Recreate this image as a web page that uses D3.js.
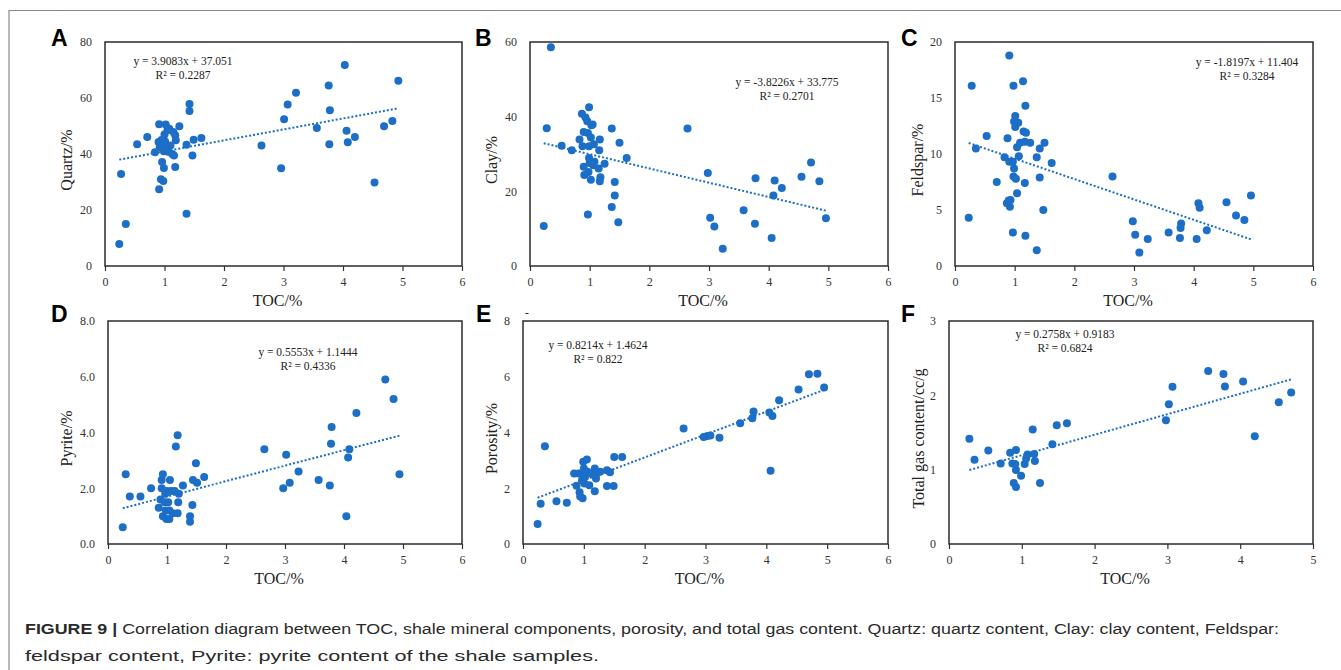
<!DOCTYPE html>
<meta charset="utf-8">
<style>
body { margin: 0; background: #fff; }
svg { display: block; }
.axis-title { font-family: "Liberation Serif", "Times New Roman", serif; font-size: 16px; fill: #222; }
.eq { font-family: "Liberation Serif", "Times New Roman", serif; font-size: 11.5px; fill: #222; }
.letter { font-family: "Liberation Sans", Arial, sans-serif; font-weight: bold; font-size: 23px; fill: #000; }
.caption { font-family: "Liberation Sans", Arial, sans-serif; font-size: 15.5px; fill: #2a2a2a; }
</style>
<body>
<script src="https://d3js.org/d3.v7.min.js"></script>
<script>

// TOC (%) vs mineral / porosity / gas content
var quartz = [[0.24,7.9],[0.35,15.0],[0.27,32.9],[0.54,43.5],[0.71,46.1],[0.84,40.6],[0.91,50.6],[0.91,27.4],
  [0.94,31.0],[0.96,37.1],[0.98,30.4],[0.99,35.0],[0.90,44.3],[0.92,42.5],[0.95,45.0],[0.97,43.2],[0.99,41.0],
  [1.00,47.0],[1.02,50.5],[1.01,44.5],[1.03,42.0],[1.05,48.5],[1.06,40.8],[1.08,49.0],[1.10,43.0],[1.13,40.0],
  [1.15,47.9],[1.18,46.7],[1.19,44.9],[1.25,49.9],[1.16,39.5],[1.18,35.4],[1.37,43.3],[1.42,57.9],[1.42,55.4],
  [1.49,45.1],[1.47,39.5],[1.62,45.7],[1.37,18.7],[2.63,43.0],[2.96,34.9],[3.01,52.4],[3.07,57.7],[3.21,61.9],
  [3.56,49.3],[3.76,64.5],[3.78,55.6],[3.77,43.5],[4.03,71.8],[4.06,48.3],[4.08,44.2],[4.20,46.1],[4.53,29.8],
  [4.69,49.9],[4.83,51.8],[4.93,66.2]];

var clay = [[0.23,10.7],[0.28,36.9],[0.35,58.6],[0.53,32.2],[0.70,31.0],[0.83,33.9],[0.87,40.8],[0.90,35.9],
  [0.88,32.1],[0.90,26.6],[0.91,24.4],[0.93,39.8],[0.96,38.8],[0.99,42.5],[0.97,35.6],[0.99,32.1],[0.99,28.9],
  [1.00,27.6],[0.98,25.2],[0.97,13.8],[1.02,23.1],[1.03,37.7],[1.05,37.9],[1.02,34.4],[1.07,32.6],[1.08,27.9],
  [1.06,27.0],[1.16,31.0],[1.17,33.9],[1.15,26.1],[1.18,23.8],[1.17,22.7],[1.25,27.4],[1.37,36.8],[1.37,15.8],
  [1.42,22.5],[1.42,18.9],[1.50,33.0],[1.48,11.7],[1.62,28.9],[2.64,36.8],[2.98,24.9],[3.02,12.9],[3.09,10.6],
  [3.23,4.6],[3.58,14.9],[3.77,11.3],[3.78,23.5],[4.05,7.5],[4.08,18.9],[4.10,22.9],[4.22,20.9],[4.55,23.9],
  [4.71,27.7],[4.85,22.7],[4.96,12.8]];

var feldspar = [[0.23,4.3],[0.28,16.1],[0.35,10.5],[0.53,11.6],[0.70,7.5],[0.83,9.7],[0.88,11.4],[0.91,18.8],
  [0.87,5.6],[0.90,5.85],[0.92,5.3],[0.91,9.3],[0.93,5.9],[0.97,9.3],[0.99,8.7],[0.97,3.0],[0.98,16.1],[0.98,8.0],
  [1.01,13.4],[0.99,12.9],[1.01,12.4],[1.02,7.8],[1.04,6.5],[1.06,12.8],[1.04,10.6],[1.07,9.8],[1.09,11.0],
  [1.14,16.5],[1.15,12.0],[1.18,14.3],[1.19,11.9],[1.17,11.1],[1.17,7.4],[1.18,2.7],[1.26,11.0],[1.37,9.7],
  [1.37,1.4],[1.42,10.5],[1.42,7.9],[1.50,11.0],[1.48,5.0],[1.62,9.2],[2.64,8.0],[2.98,4.0],[3.02,2.8],[3.09,1.2],
  [3.23,2.4],[3.58,3.0],[3.77,2.5],[3.78,3.4],[3.79,3.8],[4.05,2.4],[4.08,5.6],[4.10,5.2],[4.22,3.2],[4.55,5.7],
  [4.71,4.5],[4.85,4.1],[4.96,6.3]];

var pyrite = [[0.25,0.6],[0.30,2.5],[0.37,1.7],[0.55,1.7],[0.73,2.0],[0.86,1.3],[0.89,1.6],[0.91,2.0],[0.91,2.3],
  [0.93,2.5],[0.93,1.0],[0.96,1.5],[0.97,1.8],[0.98,1.2],[0.99,0.9],[1.00,1.9],[1.02,1.5],[1.04,0.9],[1.05,2.3],
  [1.04,1.2],[1.07,1.9],[1.10,1.1],[1.13,1.9],[1.15,3.5],[1.18,3.9],[1.18,1.1],[1.19,1.5],[1.20,1.8],[1.27,2.1],
  [1.39,1.0],[1.39,0.8],[1.43,1.4],[1.44,2.3],[1.49,2.9],[1.51,2.2],[1.63,2.4],[2.65,3.4],[2.97,2.0],[3.02,3.2],
  [3.08,2.2],[3.23,2.6],[3.57,2.3],[3.76,2.1],[3.78,3.6],[3.79,4.2],[4.04,1.0],[4.07,3.1],[4.09,3.4],[4.21,4.7],
  [4.70,5.9],[4.84,5.2],[4.94,2.5]];

var porosity = [[0.24,0.72],[0.29,1.44],[0.36,3.51],[0.55,1.53],[0.72,1.48],[0.84,2.53],[0.88,2.09],[0.91,2.53],
  [0.93,1.86],[0.94,1.70],[0.96,2.53],[0.98,1.64],[0.99,2.95],[0.97,2.29],[1.00,2.71],[1.01,2.17],[1.02,2.41],
  [1.05,3.03],[1.06,2.59],[1.09,2.11],[1.13,2.51],[1.18,2.71],[1.18,1.89],[1.20,2.35],[1.21,2.53],[1.27,2.59],
  [1.38,2.65],[1.38,2.08],[1.43,2.57],[1.49,2.08],[1.50,3.12],[1.63,3.12],[2.64,4.14],[2.97,3.84],[3.03,3.87],
  [3.08,3.89],[3.23,3.81],[3.57,4.33],[3.77,4.51],[3.79,4.75],[4.05,4.72],[4.07,2.63],[4.10,4.59],[4.21,5.16],
  [4.53,5.54],[4.70,6.09],[4.84,6.11],[4.95,5.61]];

var gas = [[0.28,1.415],[0.35,1.133],[0.54,1.258],[0.71,1.084],[0.84,1.227],[0.87,1.084],[0.89,0.82],[0.92,1.263],
  [0.91,1.075],[0.92,0.994],[0.92,0.766],[0.99,0.918],[1.04,1.075],[1.06,1.15],[1.08,1.205],[1.15,1.54],
  [1.17,1.21],[1.18,1.115],[1.25,0.82],[1.42,1.343],[1.48,1.599],[1.62,1.626],[2.98,1.666],[3.02,1.881],
  [3.07,2.114],[3.56,2.329],[3.77,2.288],[3.79,2.118],[4.04,2.185],[4.20,1.451],[4.53,1.908],[4.70,2.038]];

// fitted lines as printed on the chart: [slope, intercept, R²]
var fits = {
  A: [3.9083, 37.051, "0.2287"],
  B: [-3.8226, 33.775, "0.2701"],
  C: [-1.8197, 11.404, "0.3284"],
  D: [0.5553, 1.1444, "0.4336"],
  E: [0.8214, 1.4624, "0.822"],
  F: [0.2758, 0.9183, "0.6824"]
};

var eqLabels = {
  A: "y = 3.9083x + 37.051",
  B: "y = -3.8226x + 33.775",
  C: "y = -1.8197x + 11.404",
  D: "y = 0.5553x + 1.1444",
  E: "y = 0.8214x + 1.4624",
  F: "y = 0.2758x + 0.9183"
};

var yTitles = { A: "Quartz/%", B: "Clay/%", C: "Feldspar/%", D: "Pyrite/%", E: "Porosity/%", F: "Total gas content/cc/g" };

var color = "#1c6ec6";
var serif = "'Liberation Serif', 'Times New Roman', serif";

var W = 1341, H = 670;
var svg = d3.select("body").append("svg").attr("width", W).attr("height", H);

// figure frame (top + left edges only are visible)
svg.append("path")
  .attr("d", "M9,670 V10.5 H1341")
  .attr("fill", "none").attr("stroke", "#8a8a8a").attr("stroke-width", 1.2);

// panel layout boxes and label positions
var panels = [
  { key: "A", data: quartz, box: [105, 42, 462, 266], xMax: 6, y: [0, 80], yTicks: [0,20,40,60,80], fmt: d3.format("d"),
    eq: [78, 19], letter: [51, 46], yTitleX: 67 },
  { key: "B", data: clay, box: [530, 42, 888, 266], xMax: 6, y: [0, 60], yTicks: [0,20,40,60], fmt: d3.format("d"),
    eq: [257, 40], letter: [475, 46], yTitleX: 492 },
  { key: "C", data: feldspar, box: [955, 42, 1313, 266], xMax: 6, y: [0, 20], yTicks: [0,5,10,15,20], fmt: d3.format("d"),
    eq: [292, 20], letter: [901, 46], yTitleX: 918 },
  { key: "D", data: pyrite, box: [108, 321, 462, 544], xMax: 6, y: [0, 8], yTicks: [0,2,4,6,8], fmt: d3.format(".1f"),
    eq: [200, 31], letter: [51, 322], yTitleX: 67 },
  { key: "E", data: porosity, box: [523, 321, 888, 544], xMax: 6, y: [0, 8], yTicks: [0,2,4,6,8], fmt: d3.format("d"),
    eq: [75, 24], letter: [476, 322], yTitleX: 492 },
  { key: "F", data: gas, box: [949, 321, 1313, 544], xMax: 5, y: [0, 3], yTicks: [0,1,2,3], fmt: d3.format("d"),
    eq: [116, 13], letter: [901, 322], yTitleX: 919 }
];

panels.forEach(function(p) {
  var x0 = p.box[0], y0 = p.box[1], x1 = p.box[2], y1 = p.box[3];
  var x = d3.scaleLinear().domain([0, p.xMax]).range([x0, x1]);
  var y = d3.scaleLinear().domain(p.y).range([y1, y0]);
  var g = svg.append("g");

  // x axis with outside ticks
  var xa = g.append("g")
    .attr("transform", "translate(0," + y1 + ")")
    .call(d3.axisBottom(x).tickValues(d3.range(0, p.xMax + 1)).tickFormat(d3.format("d")).tickSizeOuter(0).tickSize(5).tickPadding(6))
    .attr("font-family", serif).attr("font-size", 12);
  xa.select(".domain").remove();
  xa.selectAll("line").attr("stroke", "#333").attr("stroke-width", 1.2);
  xa.selectAll("text").attr("fill", "#333");

  var ya = g.append("g")
    .attr("transform", "translate(" + x0 + ",0)")
    .call(d3.axisLeft(y).tickValues(p.yTicks).tickFormat(p.fmt).tickSize(0).tickPadding(13))
    .attr("font-family", serif).attr("font-size", 12);
  ya.select(".domain").remove();
  ya.selectAll("text").attr("fill", "#333");

  // frame
  g.append("rect")
    .attr("x", x0).attr("y", y0).attr("width", x1 - x0).attr("height", y1 - y0)
    .attr("fill", "none").attr("stroke", "#2b2b2b").attr("stroke-width", 1.5);

  // trend line between the extreme TOC values
  var f = fits[p.key];
  var ext = d3.extent(p.data, function(d) { return d[0]; });
  g.append("line")
    .attr("x1", x(ext[0])).attr("y1", y(f[0] * ext[0] + f[1]))
    .attr("x2", x(ext[1])).attr("y2", y(f[0] * ext[1] + f[1]))
    .attr("stroke", color).attr("stroke-width", 2).attr("stroke-dasharray", "2,2");

  g.selectAll("circle")
    .data(p.data)
    .enter().append("circle")
      .attr("cx", function(d) { return x(d[0]); })
      .attr("cy", function(d) { return y(d[1]); })
      .attr("r", 4)
      .attr("fill", color);

  // equation + R²
  g.append("text").attr("class", "eq")
    .attr("x", x0 + p.eq[0]).attr("y", y0 + p.eq[1] + 4)
    .attr("text-anchor", "middle").text(eqLabels[p.key]);
  g.append("text").attr("class", "eq")
    .attr("x", x0 + p.eq[0]).attr("y", y0 + p.eq[1] + 18)
    .attr("text-anchor", "middle").text("R\u00b2 = " + f[2]);

  // axis titles
  g.append("text").attr("class", "axis-title")
    .attr("x", (x0 + x1) / 2 - 6).attr("y", y1 + 40)
    .attr("text-anchor", "middle").text("TOC/%");
  g.append("text").attr("class", "axis-title")
    .attr("transform", "translate(" + (p.yTitleX + 5) + "," + ((y0 + y1) / 2 + 6) + ") rotate(-90)")
    .attr("text-anchor", "middle").text(yTitles[p.key]);

  g.append("text").attr("class", "letter")
    .attr("x", p.letter[0]).attr("y", p.letter[1]).text(p.key);
});

// stray dash above panel E
svg.append("text").attr("class", "eq").attr("x", 525).attr("y", 316).text("-");

// caption
var cap = svg.append("text").attr("class", "caption")
  .attr("x", 25).attr("y", 634).attr("textLength", 1254).attr("lengthAdjust", "spacingAndGlyphs");
cap.append("tspan").attr("font-weight", "bold").text("FIGURE 9 | ");
cap.append("tspan").text("Correlation diagram between TOC, shale mineral components, porosity, and total gas content. Quartz: quartz content, Clay: clay content, Feldspar:");
svg.append("text").attr("class", "caption")
  .attr("x", 25).attr("y", 661).attr("textLength", 574).attr("lengthAdjust", "spacingAndGlyphs")
  .text("feldspar content, Pyrite: pyrite content of the shale samples.");

</script>
</body>
